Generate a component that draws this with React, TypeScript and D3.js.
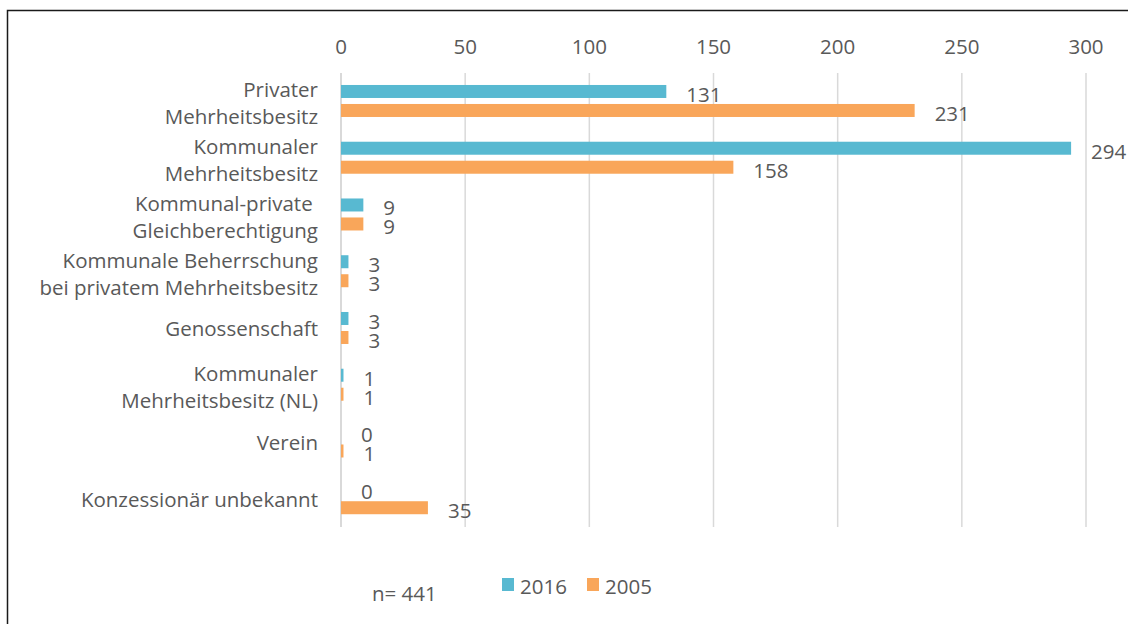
import React from 'react';
import * as d3 from 'd3';

const categories = [
  ['Privater', 'Mehrheitsbesitz'],
  ['Kommunaler', 'Mehrheitsbesitz'],
  ['Kommunal-private ', 'Gleichberechtigung'],
  ['Kommunale Beherrschung', 'bei privatem Mehrheitsbesitz'],
  ['Genossenschaft'],
  ['Kommunaler', 'Mehrheitsbesitz (NL)'],
  ['Verein'],
  ['Konzessionär unbekannt'],
];
const values2016 = [131, 294, 9, 3, 3, 1, 0, 0];
const values2005 = [231, 158, 9, 3, 3, 1, 1, 35];
const tickValues = [0, 50, 100, 150, 200, 250, 300];
const seriesNames = ['2016', '2005'];
const colors = ['#58B9D1', '#F9A65A'];

const width = 1128;
const height = 624;
const font = '"Open Sans", Lato, sans-serif';
const textColor = '#595959';
const fs = 20.5;

const App = () => {
  const x = d3.scaleLinear().domain([0, 300]).range([341, 1086]);
  const y = d3.scaleBand<number>()
    .domain(d3.range(categories.length))
    .range([73, 527]);
  const barH = 13;

  const series = [values2016, values2005];

  return (
    <svg width={width} height={height} style={{ position: 'absolute', left: 0, top: 0, fontFamily: font }}>
      <rect x={0} y={0} width={width} height={height} fill="#fff" />
      <rect x={7.5} y={10.5} width={width + 20} height={height + 20} fill="none" stroke="#1a1a1a" strokeWidth={1.5} />

      {/* grid + top axis */}
      {tickValues.map(t => (
        <g key={t}>
          <line x1={x(t)} x2={x(t)} y1={73} y2={527} stroke="#d9d9d9" strokeWidth={t === 0 ? 2 : 1.5} />
          <text x={x(t)} y={46} textAnchor="middle" dominantBaseline="central" fontSize={fs} fill={textColor}>{t}</text>
        </g>
      ))}

      {/* bars */}
      {series.map((vals, s) => (
        <g key={s}>
          {vals.map((v, i) => {
            const cy = y(i)! + y.bandwidth() / 2;
            const top = s === 0 ? cy - 16.4 : cy + 2.6;
            return (
              <g key={i}>
                {v > 0 && (
                  <rect x={x(0)} y={top} width={x(v) - x(0)} height={barH} fill={colors[s]} />
                )}
                <text x={x(v) + 20} y={top + barH / 2 + 2.5} dominantBaseline="central" fontSize={fs} fill={textColor}>{v}</text>
              </g>
            );
          })}
        </g>
      ))}

      {/* category labels */}
      {categories.map((lines, i) => {
        const cy = y(i)! + y.bandwidth() / 2;
        const offs = lines.length === 1 ? [0] : [-12, 15];
        return (
          <text key={i} textAnchor="end" fontSize={fs} fill={textColor}>
            {lines.map((l, j) => (
              <tspan key={j} x={318} y={cy + offs[j]} dominantBaseline="central" style={{ whiteSpace: 'pre' }}>{l}</tspan>
            ))}
          </text>
        );
      })}

      {/* legend */}
      <text x={372} y={593} dominantBaseline="central" fontSize={fs} fill={textColor}>n= 441</text>
      {seriesNames.map((n, i) => (
        <g key={n} transform={`translate(${502 + i * 85},578)`}>
          <rect x={0} y={0} width={12} height={13} fill={colors[i]} />
          <text x={18} y={8} dominantBaseline="central" fontSize={fs} fill={textColor}>{n}</text>
        </g>
      ))}
    </svg>
  );
};

export default App;
